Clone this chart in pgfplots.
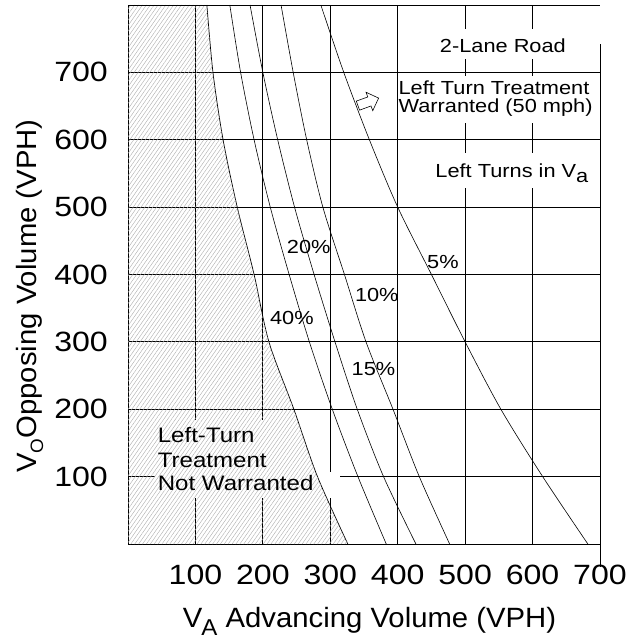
\documentclass[border=0pt]{standalone}
\usepackage{fontspec}
\setmainfont{Liberation Sans}[FakeStretch=1.15]
\newfontfamily\titlefont{Liberation Sans}[FakeStretch=1.05]
\usepackage{pgfplots}
\pgfplotsset{compat=1.18}
\usepgfplotslibrary{fillbetween}
\usetikzlibrary{patterns.meta,shapes.arrows}

\newcommand\ticfont{\fontsize{28}{30}\selectfont}
\newcommand\lblfont{\fontsize{19}{21}\selectfont}
\newcommand\nwfont{\fontsize{21}{23}\selectfont}

\begin{document}
\begin{tikzpicture}
\begin{axis}[
    name=ax,
    scale only axis,
    width=472bp, height=539bp,
    xmin=0, xmax=700, ymin=0, ymax=800,
    axis x line*=bottom, axis y line*=left,
    axis line style={line width=0.9pt, -},
    xtick={100,200,...,600}, ytick={100,200,...,700},
    extra x ticks={700}, extra x tick style={grid=none},
    grid=major, major grid style={black, line width=0.9pt},
    major tick length=0pt,
    tick label style={font=\ticfont, inner sep=0pt},
    /pgf/number format/assume math mode=true,
    xticklabel style={yshift=-21bp},
    yticklabel style={xshift=-20bp},
    xlabel={\titlefont\fontsize{28}{30}\selectfont V\kern-1pt\raisebox{-0.3em}{\fontsize{23}{23}\selectfont A} Advancing Volume (VPH)},
    ylabel={\titlefont\fontsize{28}{30}\selectfont V\raisebox{-0.22em}{\fontsize{18}{18}\selectfont O}Opposing Volume (VPH)},
    xlabel style={at={(axis description cs:0.116,-0.154)}, anchor=base west, inner sep=0pt},
    ylabel style={at={(axis description cs:-0.193,0.132)}, anchor=base west, inner sep=0pt},
    clip=false,
]
% gaps in the grid behind the labels
\fill[white] (axis cs:456,720) rectangle (axis cs:655,764);
\fill[white] (axis cs:404,625) rectangle (axis cs:695,695);
\fill[white] (axis cs:456,529) rectangle (axis cs:695,581);
\fill[white] (axis cs:40,68) rectangle (axis cs:314,107);
\fill[white] (axis cs:40,107) rectangle (axis cs:240,184);

% 40%
\addplot[name path=A, smooth, black, line width=0.7pt] coordinates {
    (326,0) (281,100) (246,200) (209,300) (187,400) (162,500) (141,600) (126,700) (117,800)
};
\path[name path=L] (axis cs:0,0) -- (axis cs:0,800);
\addplot[draw=none, pattern={Lines[angle=55,distance=3.2pt,line width=0.4pt]}, pattern color=gray!65]
    fill between[of=A and L, reverse=true, on layer=main];
% 20%
\addplot[smooth, black, line width=0.6pt] coordinates {
    (383,0) (341,100) (303,200) (269,300) (239,400) (211,500) (187,600) (167,700) (151,800)
};
% 15%
\addplot[smooth, black, line width=0.6pt] coordinates {
    (427,0) (379,100) (340,200) (307,300) (276,400) (247,500) (222,600) (200,700) (181,800)
};
% 10%
\addplot[smooth, black, line width=0.6pt] coordinates {
    (477,0) (432,100) (393,200) (353,300) (321,400) (289,500) (265,600) (245,700) (227,800)
};
% 5%
\addplot[smooth, black, line width=0.6pt] coordinates {
    (682,0) (615,100) (553,200) (500,300) (450,400) (400,500) (358,600) (320,700) (286,800)
};

\draw[line width=0.9pt] (axis cs:0,800) -- (axis cs:700,800);
\draw[line width=0.9pt] (axis cs:700,742) -- (axis cs:700,-34);

\node[single arrow, draw, fill=white, line width=0.6pt, inner sep=4.5bp,
      minimum height=22bp, single arrow head extend=5bp, rotate=20]
      at (axis cs:353,655) {};

\node[anchor=base, inner sep=0pt, font=\lblfont] at (axis cs:556,730) {2-Lane Road};
\node[anchor=base west, inner sep=0pt, font=\lblfont] at (axis cs:401,667) {Left Turn Treatment};
\node[anchor=base west, inner sep=0pt, font=\lblfont] at (axis cs:401,640) {Warranted (50 mph)};
\node[anchor=base east, inner sep=0pt, font=\lblfont] at (axis cs:683,544) {Left Turns in V\raisebox{-0.28em}{a}};

\node[anchor=base, inner sep=0pt, font=\lblfont] at (axis cs:268,431) {20\%};
\node[anchor=base, inner sep=0pt, font=\lblfont] at (axis cs:369,360) {10\%};
\node[anchor=base, inner sep=0pt, font=\lblfont] at (axis cs:243,326) {40\%};
\node[anchor=base, inner sep=0pt, font=\lblfont] at (axis cs:364,250) {15\%};
\node[anchor=base, inner sep=0pt, font=\lblfont] at (axis cs:467,409) {5\%};

\node[anchor=base west, inner sep=0pt, font=\nwfont] at (axis cs:44,150) {Left-Turn};
\node[anchor=base west, inner sep=0pt, font=\nwfont] at (axis cs:44,114) {Treatment};
\node[anchor=base west, inner sep=0pt, font=\nwfont] at (axis cs:44,80) {Not Warranted};
\end{axis}
\path (ax.south west) ++(-128bp,-98bp) rectangle ++(639bp,642bp);
\end{tikzpicture}
\end{document}
